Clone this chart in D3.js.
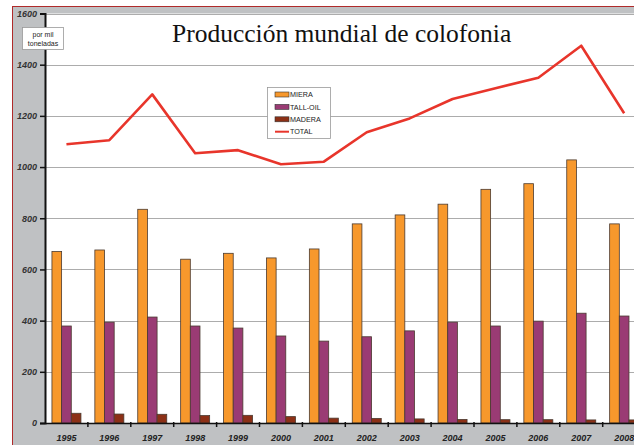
<!DOCTYPE html>
<html>
<head>
<meta charset="utf-8">
<script src="https://cdnjs.cloudflare.com/ajax/libs/d3/7.8.5/d3.min.js"></script>
<style>
  body { margin: 0; background: #fff; }
  text { font-family: "Liberation Sans", Arial, sans-serif; }
</style>
</head>
<body>
<svg width="634" height="445"></svg>
<script>
var years = ["1995", "1996", "1997", "1998", "1999", "2000", "2001",
             "2002", "2003", "2004", "2005", "2006", "2007", "2008"];
var miera   = [670, 676, 835, 640, 663, 645, 680, 778, 813, 855, 913, 935, 1028, 778];
var tallOil = [379, 394, 414, 379, 371, 340, 320, 337, 360, 394, 379, 398, 429, 418];
var madera  = [38, 35, 34, 29, 30, 25, 19, 18, 16, 14, 13, 13, 12, 12];
var total   = [1089, 1105, 1284, 1054, 1066, 1011, 1021, 1136, 1190, 1266, 1308, 1349, 1474, 1210];
var yTicks  = [0, 200, 400, 600, 800, 1000, 1200, 1400, 1600];

var seriesNames  = ["MIERA", "TALL-OIL", "MADERA"];
var seriesColors = ["#f7982c", "#9a3b74", "#8c3016"];
var lineColor = "#e8352b";

var svg = d3.select("svg"),
    width = +svg.attr("width"),
    height = +svg.attr("height");

var plotLeft = 45, plotTop = 13.5, plotBottom = 423;

// frame: gray panel with thin red border
svg.append("rect")
    .attr("x", 12.5).attr("y", 6.5)
    .attr("width", width).attr("height", height)
    .attr("fill", "#bfc1c3")
    .attr("stroke", "#b02a2a").attr("stroke-width", 1);

var x = d3.scaleBand()
    .domain(years)
    .range([plotLeft, plotLeft + years.length * 42.9]);

var y = d3.scaleLinear()
    .domain([0, 1600])
    .range([plotBottom, plotTop]);

// plot area
svg.append("rect")
    .attr("x", plotLeft).attr("y", y(1600))
    .attr("width", width - plotLeft).attr("height", plotBottom - y(1600))
    .attr("fill", "#fff");

// gridlines
svg.append("g")
    .selectAll("line")
    .data(yTicks.slice(1))
    .enter().append("line")
    .attr("x1", plotLeft).attr("x2", width)
    .attr("y1", function (d) { return Math.round(y(d)) + 0.5; })
    .attr("y2", function (d) { return Math.round(y(d)) + 0.5; })
    .attr("stroke", "#acacac").attr("stroke-width", 1.1);

// bars
var x1 = d3.scaleBand()
    .domain(seriesNames)
    .range([0, 29]);
var barData = [miera, tallOil, madera];

var groups = svg.append("g")
    .selectAll("g")
    .data(years)
    .enter().append("g")
    .attr("transform", function (d) {
        return "translate(" + (x(d) + x.bandwidth() / 2 - 14.5) + ",0)";
    });

groups.selectAll("rect")
    .data(function (d, i) {
        return seriesNames.map(function (s, j) { return { key: s, value: barData[j][i], c: seriesColors[j] }; });
    })
    .enter().append("rect")
    .attr("x", function (d) { return x1(d.key); })
    .attr("width", x1.bandwidth())
    .attr("y", function (d) { return y(d.value); })
    .attr("height", function (d) { return plotBottom - y(d.value); })
    .attr("fill", function (d) { return d.c; })
    .attr("stroke", "#4a3a30").attr("stroke-width", 0.8);

// total line
var line = d3.line()
    .x(function (d, i) { return x(years[i]) + x.bandwidth() / 2; })
    .y(function (d) { return y(d); });

svg.append("path")
    .datum(total)
    .attr("d", line)
    .attr("fill", "none")
    .attr("stroke", lineColor)
    .attr("stroke-width", 2.6)
    .attr("stroke-linejoin", "round");

// y axis
var yAxis = svg.append("g")
    .attr("transform", "translate(" + plotLeft + ",0)")
    .call(d3.axisLeft(y).tickValues(yTicks).tickFormat(d3.format("d")).tickSize(5).tickPadding(3));
yAxis.select(".domain").attr("stroke", "#111").attr("stroke-width", 2);
yAxis.selectAll(".tick line").attr("stroke", "#111").attr("stroke-width", 1.5);
yAxis.selectAll("text")
    .attr("font-size", 9).attr("font-weight", "bold").attr("font-style", "italic")
    .attr("fill", "#333");

// x axis
var xAxis = svg.append("g")
    .attr("transform", "translate(0," + plotBottom + ")")
    .call(d3.axisBottom(x).tickSize(0).tickPadding(12));
xAxis.select(".domain").attr("stroke", "#111").attr("stroke-width", 1.6);
xAxis.selectAll("text")
    .attr("font-size", 9).attr("font-weight", "bold").attr("font-style", "italic")
    .attr("fill", "#222");
xAxis.selectAll(".sep")
    .data(years.slice(1))
    .enter().append("line")
    .attr("x1", function (d) { return x(d); })
    .attr("x2", function (d) { return x(d); })
    .attr("y1", -1).attr("y2", 4)
    .attr("stroke", "#111").attr("stroke-width", 1.5);

// title
svg.append("text")
    .attr("x", 172).attr("y", 42)
    .style("font-family", "'Liberation Serif', serif")
    .attr("font-size", 25.5)
    .attr("fill", "#111")
    .text("Producción mundial de colofonia");

// units box
var unit = svg.append("g");
unit.append("rect")
    .attr("x", 22.5).attr("y", 27.5).attr("width", 41).attr("height", 22)
    .attr("fill", "#fff").attr("stroke", "#999").attr("stroke-width", 0.8);
unit.append("text").attr("x", 43).attr("y", 36.5)
    .attr("text-anchor", "middle").attr("font-size", 7).attr("fill", "#222")
    .text("por mil");
unit.append("text").attr("x", 43).attr("y", 45.5)
    .attr("text-anchor", "middle").attr("font-size", 7).attr("fill", "#222")
    .text("toneladas");

// legend
var legend = svg.append("g");
legend.append("rect")
    .attr("x", 267.5).attr("y", 87.5).attr("width", 63).attr("height", 51)
    .attr("fill", "#fff").attr("stroke", "#999").attr("stroke-width", 0.8);
var legendNames = seriesNames.concat(["TOTAL"]);
var items = legend.selectAll("g")
    .data(legendNames)
    .enter().append("g")
    .attr("transform", function (d, i) { return "translate(275," + (94.5 + i * 12.4) + ")"; });
items.filter(function (d, i) { return i < 3; })
    .append("rect")
    .attr("x", 0).attr("y", -2.5).attr("width", 14).attr("height", 5)
    .attr("fill", function (d, i) { return seriesColors[i]; })
    .attr("stroke", "#333").attr("stroke-width", 0.6);
items.filter(function (d, i) { return i === 3; })
    .append("line")
    .attr("x1", 0).attr("x2", 14).attr("y1", 0).attr("y2", 0)
    .attr("stroke", lineColor).attr("stroke-width", 2);
items.append("text")
    .attr("x", 15).attr("y", 2.6)
    .attr("font-size", 7.2).attr("fill", "#222")
    .text(function (d) { return d; });
</script>
</body>
</html>
